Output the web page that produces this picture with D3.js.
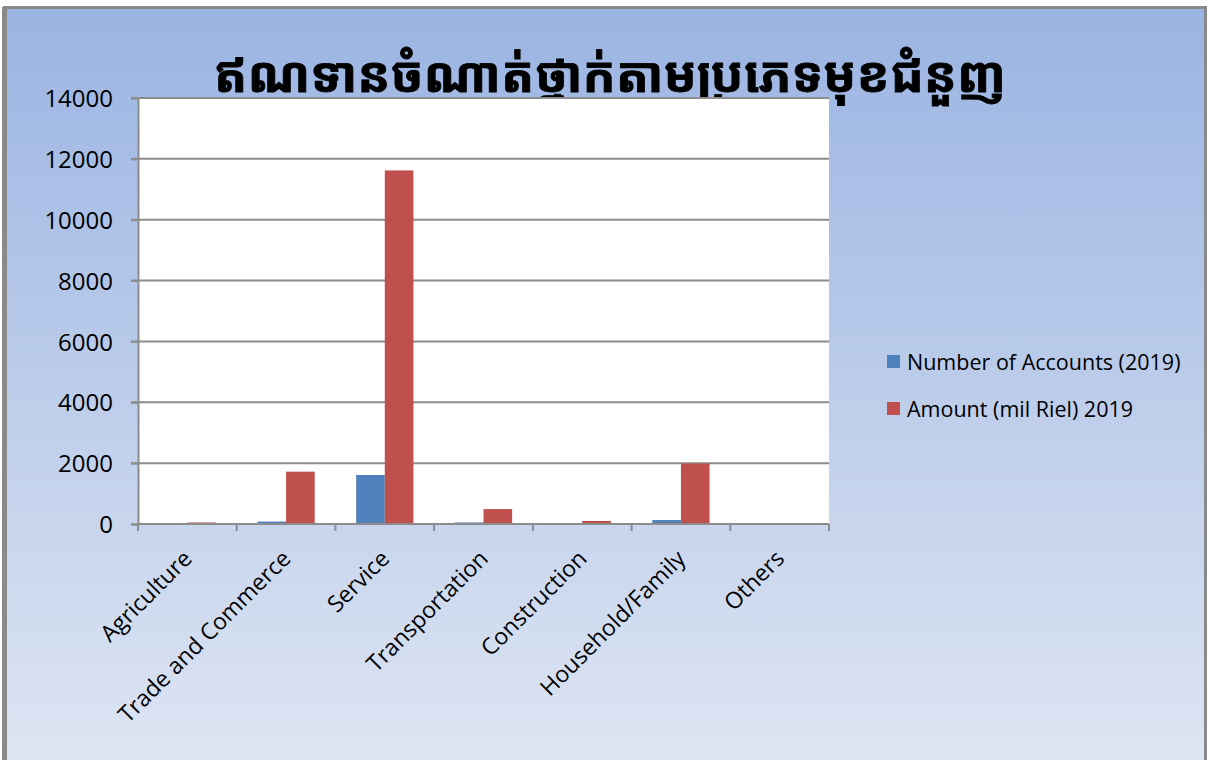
<!DOCTYPE html>
<html>
<head>
<meta charset="utf-8">
<script src="https://cdn.jsdelivr.net/npm/d3@7"></script>
<style>
  body { margin: 0; background: #fff; }
  text { font-family: "Open Sans", "Liberation Sans", sans-serif; fill: #000; }
</style>
</head>
<body>
<div id="chart"></div>
<script>
var categories = ["Agriculture", "Trade and Commerce", "Service", "Transportation",
  "Construction", "Household/Family", "Others"];
var seriesNames = ["Number of Accounts (2019)", "Amount (mil Riel) 2019"];
var accounts = [5, 80, 1610, 50, 10, 130, 0];
var amounts = [50, 1720, 11620, 490, 100, 1990, 0];
var yTicks = [0, 2000, 4000, 6000, 8000, 10000, 12000, 14000];
var title = "ឥណទានចំណាត់ថ្នាក់តាមប្រភេទមុខជំនួញ";

var color = d3.scaleOrdinal().domain(seriesNames).range(["#4f81bd", "#c0504d"]);

var width = 1208, height = 760;
var m = {top: 98, left: 138, right: 379, bottom: 236};
var w = width - m.left - m.right, h = height - m.top - m.bottom;

var svg = d3.select("#chart").append("svg")
  .attr("width", width)
  .attr("height", height);

var grad = svg.append("defs").append("linearGradient")
  .attr("id", "bg").attr("x1", 0).attr("y1", 0).attr("x2", 0).attr("y2", 1);
grad.append("stop").attr("offset", "0%").attr("stop-color", "#9ab4e2");
grad.append("stop").attr("offset", "100%").attr("stop-color", "#dfe6f3");

svg.append("rect")
  .attr("x", 4.5).attr("y", 7.5)
  .attr("width", 1201).attr("height", 770)
  .attr("fill", "url(#bg)")
  .attr("stroke", "#8a8a8a")
  .attr("stroke-width", 3);
// thicker left edge
svg.append("line")
  .attr("x1", 4.5).attr("x2", 4.5).attr("y1", 7).attr("y2", height)
  .attr("stroke", "#8a8a8a").attr("stroke-width", 5);

svg.append("text")
  .attr("x", 610).attr("y", 92)
  .attr("text-anchor", "middle")
  .style("font-family", "'Khmer OS', 'Noto Sans Khmer', 'Noto Serif Khmer', 'Khmer OS System', sans-serif")
  .style("font-size", "49px")
  .style("font-weight", "bold")
  .style("stroke", "#000")
  .style("stroke-width", "0.8px")
  .text(title);

var g = svg.append("g")
  .attr("transform", "translate(" + m.left + "," + m.top + ")");

g.append("rect").attr("width", w).attr("height", h).attr("fill", "#fff");

var x0 = d3.scaleBand().domain(categories).range([0, w]).paddingInner(0).paddingOuter(0);
var x1 = d3.scaleBand().domain(seriesNames).range([0, x0.bandwidth() * 0.58]);
var y = d3.scaleLinear().domain([0, 14000]).range([h, 0]);

// gridlines
g.append("g").selectAll("line")
  .data(yTicks.slice(1))
  .enter().append("line")
  .attr("x1", -7).attr("x2", w)
  .attr("y1", function(d) { return y(d); })
  .attr("y2", function(d) { return y(d); })
  .attr("stroke", "#8c8c8c")
  .attr("stroke-width", 2);

var data = categories.map(function(c, i) {
  return {cat: c, values: [
    {key: seriesNames[0], value: accounts[i]},
    {key: seriesNames[1], value: amounts[i]}
  ]};
});

var groupOffset = x0.bandwidth() * 0.21;
var group = g.selectAll(".group")
  .data(data)
  .enter().append("g")
  .attr("class", "group")
  .attr("transform", function(d) { return "translate(" + (x0(d.cat) + groupOffset) + ",0)"; });

group.selectAll("rect")
  .data(function(d) { return d.values; })
  .enter().append("rect")
  .attr("x", function(d) { return x1(d.key); })
  .attr("width", x1.bandwidth())
  .attr("y", function(d) { return y(d.value); })
  .attr("height", function(d) { return h - y(d.value); })
  .attr("fill", function(d) { return color(d.key); });

// y axis
var yAxis = g.append("g")
  .call(d3.axisLeft(y).tickValues(yTicks).tickSize(7).tickPadding(18).tickFormat(d3.format("d")));
yAxis.select(".domain").attr("stroke", "#8c8c8c").attr("stroke-width", 2);
yAxis.selectAll(".tick line").attr("stroke", "#8c8c8c").attr("stroke-width", 2);
yAxis.selectAll(".tick text").style("font-size", "24px").attr("dy", "0.36em");

// x axis
var xAxis = g.append("g").attr("transform", "translate(0," + h + ")");
xAxis.append("line").attr("x1", 0).attr("x2", w)
  .attr("stroke", "#8c8c8c").attr("stroke-width", 2);
xAxis.selectAll(".tk")
  .data(d3.range(categories.length + 1))
  .enter().append("line")
  .attr("class", "tk")
  .attr("x1", function(i) { return i * x0.step(); })
  .attr("x2", function(i) { return i * x0.step(); })
  .attr("y1", 0).attr("y2", 7)
  .attr("stroke", "#8c8c8c").attr("stroke-width", 2);
xAxis.selectAll(".lbl")
  .data(categories)
  .enter().append("text")
  .attr("class", "lbl")
  .attr("text-anchor", "end")
  .style("font-size", "23px")
  .attr("transform", function(d) {
    return "translate(" + (x0(d) + x0.bandwidth() / 2 + 6) + ",36) rotate(-45)";
  })
  .text(function(d) { return d; });

// legend
var legend = svg.selectAll(".legend")
  .data(seriesNames)
  .enter().append("g")
  .attr("class", "legend")
  .attr("transform", function(d, i) { return "translate(887," + (355 + i * 47) + ")"; });
legend.append("rect").attr("width", 13).attr("height", 13).attr("fill", color);
legend.append("text").attr("x", 20).attr("y", 7).attr("dy", "0.35em")
  .style("font-size", "21.5px")
  .text(function(d) { return d; });
</script>
</body>
</html>
